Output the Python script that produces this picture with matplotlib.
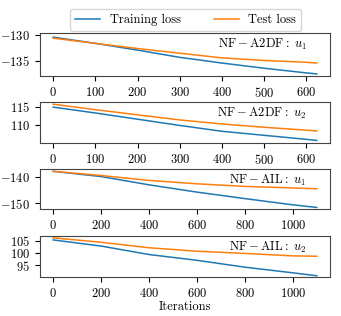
import matplotlib

matplotlib.use("Agg")
import matplotlib.pyplot as plt
from matplotlib.ticker import MultipleLocator

plt.rcParams["font.family"] = "serif"
plt.rcParams["font.serif"] = ["cmr10"]
plt.rcParams["mathtext.fontset"] = "cm"
plt.rcParams["axes.formatter.use_mathtext"] = True
plt.rcParams["font.size"] = 9

# values, one point every ~100 iterations
iters_a2df = [0, 100, 200, 300, 400, 500, 600, 625]
a2df_u1_train = [-130.4, -131.6, -132.9, -134.3, -135.4, -136.4, -137.3, -137.5]
a2df_u1_test = [-130.6, -131.6, -132.6, -133.5, -134.4, -134.9, -135.25, -135.4]
a2df_u2_train = [114.9, 113.3, 111.6, 109.9, 108.3, 107.2, 106.1, 105.8]
a2df_u2_test = [115.7, 114.2, 112.8, 111.4, 110.3, 109.4, 108.6, 108.4]

iters_ail = [0, 200, 400, 600, 800, 1000, 1100]
ail_u1_train = [-137.8, -139.8, -143.0, -145.8, -148.3, -150.7, -151.7]
ail_u1_test = [-137.8, -139.4, -141.3, -142.6, -143.6, -144.2, -144.5]
ail_u2_train = [105.4, 102.9, 99.45, 97.1, 94.3, 92.0, 90.8]
ail_u2_test = [106.25, 104.45, 102.2, 100.8, 99.9, 98.9, 98.75]

panels = [
    (iters_a2df, a2df_u1_train, a2df_u1_test, r"$\mathrm{NF-A2DF:}\ u_1$", 5, (-137.9, -129.6)),
    (iters_a2df, a2df_u2_train, a2df_u2_test, r"$\mathrm{NF-A2DF:}\ u_2$", 5, (105.1, 116.3)),
    (iters_ail, ail_u1_train, ail_u1_test, r"$\mathrm{NF-AIL:}\ u_1$", 10, (-152.3, -136.9)),
    (iters_ail, ail_u2_train, ail_u2_test, r"$\mathrm{NF-AIL:}\ u_2$", 5, (90.3, 107.0)),
]

W, H = 341, 316
fig = plt.figure(figsize=(W / 100, H / 100), dpi=100)
boxes = [(33, 76), (102, 143), (169, 209), (236, 277)]

for (x, train, test, label, step, ylim), (top, bottom) in zip(panels, boxes):
    ax = fig.add_axes([40 / W, 1 - bottom / H, 290 / W, (bottom - top) / H])
    ax.plot(x, train, color="#1f77b4", linewidth=1.1, label="Training loss")
    ax.plot(x, test, color="#ff7f0e", linewidth=1.1, label="Test loss")
    ax.set_ylim(ylim)
    ax.yaxis.set_major_locator(MultipleLocator(step))
    ax.text(0.92, 0.9, label, transform=ax.transAxes, ha="right", va="top")
    for spine in ax.spines.values():
        spine.set_color("#444444")

ax.set_xlabel("Iterations", labelpad=1)

handles, labels = fig.axes[0].get_legend_handles_labels()
fig.legend(
    handles,
    labels,
    ncol=2,
    loc="lower left",
    bbox_to_anchor=(70 / W, 1 - 31 / H),
    borderaxespad=0,
    handlelength=2.0,
    columnspacing=2.6,
)

fig.savefig("out.png", dpi=100)
